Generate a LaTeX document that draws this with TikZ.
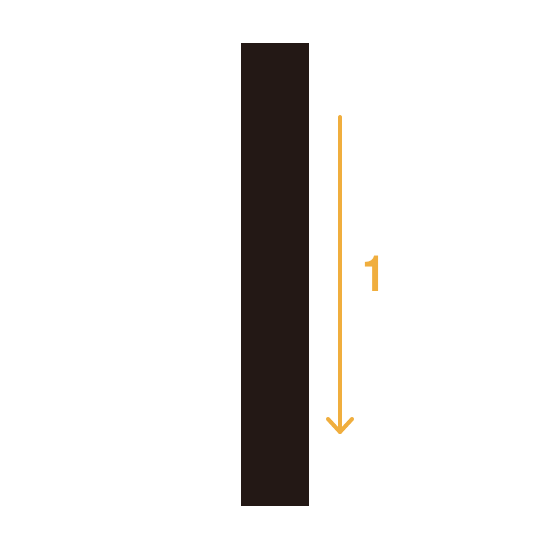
\documentclass[tikz,border=0pt]{standalone}
\usepackage{fontspec}
\setmainfont{TeX Gyre Heros}
\usetikzlibrary{calc}
\definecolor{bar}{HTML}{231815}
\definecolor{arr}{HTML}{F0AE3E}
\tikzset{
  arrline/.style={draw=arr, line width=4pt, line cap=round, line join=round},
  lbl/.style={text=arr, font=\fontsize{50}{50}\selectfont\bfseries, inner sep=0pt}
}
\begin{document}
\begin{tikzpicture}[x=1pt,y=1pt]
\useasboundingbox (0,0) rectangle (550,550);
\fill[bar] (241,44) rectangle (309,507);
\coordinate (top) at (340,433);
\coordinate (tip) at (340,118);
\draw[arrline] (top) -- (tip);
\draw[arrline] ($(tip)+(-12,13)$) -- (tip) -- ($(tip)+(12,13)$);
\node[lbl, anchor=base, xscale=0.85] (one) at (374.5,258) {1};
\end{tikzpicture}
\end{document}
